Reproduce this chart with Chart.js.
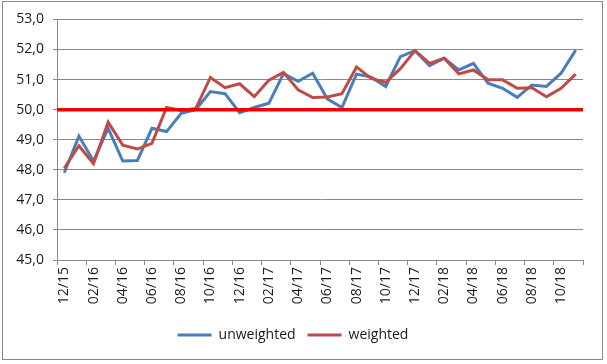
<!DOCTYPE html>
<html>
<head>
<meta charset="utf-8">
<script src="https://cdn.jsdelivr.net/npm/chart.js@4"></script>
<style>
    html, body { margin: 0; padding: 0; background: #fff; }
    #frame {
        position: absolute;
        left: 2px;
        top: 1px;
        width: 599px;
        height: 357px;
        border: 1px solid #898989;
        background: #fff;
    }
</style>
</head>
<body>
<div id="frame"><canvas id="chart" width="599" height="357"></canvas></div>
<script>
const months = [
    "12/15", "01/16", "02/16", "03/16", "04/16", "05/16", "06/16", "07/16", "08/16", "09/16", "10/16", "11/16",
    "12/16", "01/17", "02/17", "03/17", "04/17", "05/17", "06/17", "07/17", "08/17", "09/17", "10/17", "11/17",
    "12/17", "01/18", "02/18", "03/18", "04/18", "05/18", "06/18", "07/18", "08/18", "09/18", "10/18", "11/18"
];

const unweighted = [
    47.90, 49.12, 48.29, 49.38, 48.29, 48.31, 49.38, 49.27, 49.88, 50.00, 50.60, 50.53,
    49.90, 50.07, 50.21, 51.20, 50.94, 51.21, 50.36, 50.07, 51.18, 51.08, 50.77, 51.76,
    51.96, 51.46, 51.71, 51.32, 51.54, 50.88, 50.71, 50.41, 50.82, 50.77, 51.21, 51.98
];

const weighted = [
    48.05, 48.80, 48.20, 49.58, 48.82, 48.69, 48.88, 50.07, 49.97, 50.04, 51.07, 50.73,
    50.86, 50.43, 50.98, 51.24, 50.66, 50.40, 50.42, 50.53, 51.42, 51.04, 50.91, 51.36,
    51.96, 51.54, 51.71, 51.19, 51.32, 50.99, 50.99, 50.71, 50.73, 50.43, 50.71, 51.18
];

const threshold = 50;
const yMin = 45;
const yMax = 53;

Chart.defaults.font.family = "'Open Sans', sans-serif";
Chart.defaults.font.size = 14;
Chart.defaults.color = "#1a1a1a";

const gridGray = "#898989";

/* every second boundary gets a tick mark, like the Excel axis */
function evenTick(ctx) {
    if (ctx.index === undefined || ctx.index % 2 === 0) return gridGray;
    return "rgba(0,0,0,0)";
}

const ctx = document.getElementById("chart").getContext("2d");

new Chart(ctx, {
    type: "line",
    data: {
        labels: months,
        datasets: [
            {
                label: "unweighted",
                data: unweighted,
                borderColor: "#4A7EBB",
                backgroundColor: "#4A7EBB",
                borderWidth: 3,
                pointRadius: 0,
                tension: 0,
                order: 2,
            },
            {
                label: "weighted",
                data: weighted,
                borderColor: "#BE4B48",
                backgroundColor: "#BE4B48",
                borderWidth: 3,
                pointRadius: 0,
                tension: 0,
                order: 1,
            },
            {
                label: "threshold",
                data: [{ x: 0, y: threshold }, { x: 1, y: threshold }],
                xAxisID: "x2",
                borderColor: "#F00000",
                borderWidth: 3.5,
                pointRadius: 0,
                order: 0,
            },
        ],
    },
    options: {
        responsive: false,
        animation: false,
        layout: { padding: { left: 0, right: 19, top: 16, bottom: 7 } },
        plugins: {
            legend: {
                display: true,
                position: "bottom",
                labels: {
                    usePointStyle: true,
                    pointStyle: "line",
                    pointStyleWidth: 34,
                    padding: 12,
                    color: "#1a1a1a",
                    filter: (item) => item.datasetIndex !== 2,
                    sort: (a, b) => a.datasetIndex - b.datasetIndex,
                },
            },
            tooltip: { enabled: false },
        },
        scales: {
            x: {
                type: "category",
                offset: true,
                afterFit: (scale) => { scale.height = 56; },
                grid: {
                    offset: true,
                    drawOnChartArea: false,
                    drawTicks: true,
                    tickLength: 5,
                    color: evenTick,
                    tickColor: evenTick,
                },
                border: { display: true, color: gridGray },
                ticks: {
                    autoSkip: false,
                    maxRotation: 90,
                    minRotation: 90,
                    padding: 2,
                    callback: function (value, index) {
                        return index % 2 === 0 ? this.getLabelForValue(value) : "";
                    },
                },
            },
            x2: {
                type: "linear",
                display: false,
                min: 0,
                max: 1,
            },
            y: {
                min: yMin,
                max: yMax,
                afterFit: (scale) => { scale.width = 54; },
                grid: {
                    color: gridGray,
                    tickLength: 4,
                },
                border: { display: true, color: gridGray },
                ticks: {
                    stepSize: 1,
                    padding: 9,
                    callback: (v) => v.toFixed(1).replace(".", ","),
                },
            },
        },
    },
});
</script>
</body>
</html>
